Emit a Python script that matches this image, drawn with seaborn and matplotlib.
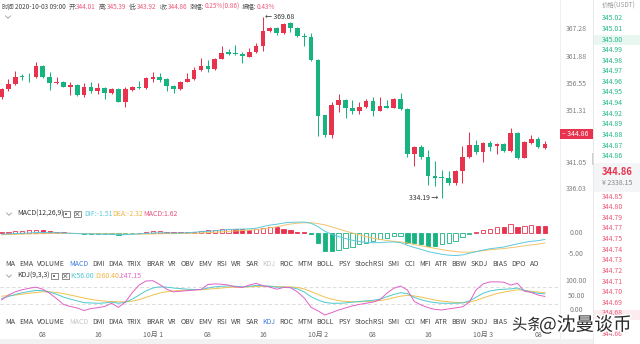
import numpy as np
import pandas as pd
import matplotlib
matplotlib.use("Agg")
import matplotlib.pyplot as plt
import matplotlib.transforms as mtrans
import matplotlib.patheffects as pe
from matplotlib.patches import Rectangle
from matplotlib.lines import Line2D
import seaborn as sns

# ---------------- data: ETH/USDT hourly candles ----------------
start_time = "2020-09-30 02:00"

opens = [354.09, 355.54, 356.58, 358.00, 357.95, 357.89, 360.10, 358.00, 356.71, 356.97,
         356.05, 356.32, 354.42, 355.99, 355.26, 355.73, 354.87, 355.60, 353.11, 355.34,
         355.99, 355.73, 357.56, 357.89, 357.49, 356.18, 355.60, 357.03, 357.55, 359.31,
         360.10, 359.51, 361.53, 362.78, 362.58, 362.39, 361.92, 362.78, 364.01, 367.01,
         367.59, 366.56, 368.45, 367.59, 365.97, 365.83, 361.27, 350.45, 346.54, 352.52,
         353.50, 351.94, 351.29, 352.07, 353.25, 351.35, 352.27, 351.94, 353.64, 351.68,
         342.88, 344.30, 342.35, 338.57, 338.30, 338.18, 337.14, 339.61, 342.35, 344.64,
         343.33, 344.97, 344.44, 344.77, 343.46, 346.93, 342.15, 344.97, 345.75, 344.01]
highs = [355.80, 357.49, 359.18, 358.60, 358.80, 360.82, 360.30, 358.87, 358.00, 357.10,
         357.03, 356.50, 356.71, 356.97, 356.71, 355.90, 355.80, 355.75, 356.05, 356.10,
         357.10, 358.00, 358.87, 358.67, 357.80, 356.44, 357.20, 358.67, 359.96, 361.72,
         361.27, 361.70, 364.07, 363.37, 364.15, 362.90, 363.56, 364.54, 369.68, 367.75,
         367.80, 368.60, 368.70, 367.80, 366.50, 366.50, 361.50, 350.60, 353.11, 354.62,
         353.70, 353.44, 352.99, 353.70, 354.09, 354.09, 353.50, 353.90, 354.76, 351.90,
         344.50, 344.60, 343.66, 341.56, 339.74, 339.61, 339.80, 344.50, 347.12, 345.61,
         345.30, 345.42, 345.00, 345.00, 347.91, 347.10, 345.40, 346.59, 346.26, 345.39]
lows = [353.70, 355.30, 356.40, 357.30, 357.00, 357.70, 357.70, 355.40, 356.60, 355.90,
        354.42, 354.30, 353.97, 354.76, 354.62, 353.64, 354.70, 353.00, 352.02, 355.20,
        355.60, 355.60, 357.03, 357.03, 355.15, 354.87, 355.40, 356.90, 357.40, 359.10,
        358.87, 359.30, 361.40, 362.19, 362.30, 360.63, 361.80, 362.60, 363.09, 366.85,
        366.20, 366.40, 366.81, 365.70, 364.01, 361.10, 346.46, 346.20, 345.95, 351.15,
        349.98, 350.65, 350.65, 351.90, 350.37, 351.20, 351.80, 351.80, 351.50, 342.35,
        340.59, 341.90, 336.81, 336.61, 334.19, 336.90, 336.90, 337.14, 342.10, 342.82,
        341.37, 343.52, 342.82, 343.30, 343.30, 341.90, 342.00, 344.80, 344.10, 343.92]
closes = [355.54, 356.58, 358.00, 357.90, 357.85, 360.10, 358.00, 356.71, 356.97, 356.05,
          356.32, 354.42, 355.93, 355.26, 355.73, 354.87, 355.60, 353.11, 355.54, 355.93,
          355.73, 357.69, 357.89, 357.36, 356.24, 355.54, 357.03, 357.55, 359.31, 360.10,
          359.45, 361.53, 362.70, 362.45, 362.45, 362.05, 362.84, 364.01, 367.01, 367.59,
          366.56, 368.38, 367.59, 365.91, 365.77, 361.27, 350.37, 346.54, 352.52, 353.50,
          351.94, 351.29, 352.07, 353.25, 351.35, 352.27, 351.94, 353.64, 351.68, 342.88,
          344.30, 342.35, 338.57, 338.24, 338.10, 337.14, 339.61, 342.35, 344.64, 343.33,
          344.97, 344.30, 344.77, 343.46, 346.93, 342.15, 345.17, 345.75, 344.25, 344.86]

price_ticks = [336.03, 341.05, 346.14, 351.31, 356.55, 361.88, 367.28]

# MACD(12,26,9)
dif = [-0.30, -0.22, -0.12, -0.05, 0.00, 0.10, 0.12, 0.08, 0.05, 0.00,
       -0.05, -0.15, -0.20, -0.22, -0.25, -0.30, -0.28, -0.40, -0.38, -0.30,
       -0.22, -0.08, 0.00, 0.05, 0.02, -0.02, 0.00, 0.05, 0.18, 0.30,
       0.38, 0.52, 0.68, 0.80, 0.88, 0.92, 0.98, 1.12, 1.50, 1.85,
       2.05, 2.35, 2.50, 2.55, 2.55, 2.30, 1.50, 0.40, -0.30, -0.85,
       -1.30, -1.70, -2.00, -2.20, -2.30, -2.25, -2.15, -2.10, -2.25, -2.90,
       -3.40, -3.85, -4.35, -4.70, -5.00, -5.20, -5.30, -5.15, -4.75, -4.40,
       -4.00, -3.70, -3.50, -3.30, -2.90, -2.55, -2.20, -1.95, -1.80, -1.51]
dea = [-0.42, -0.37, -0.32, -0.27, -0.22, -0.18, -0.16, -0.13, -0.10, -0.09,
       -0.09, -0.10, -0.12, -0.14, -0.16, -0.18, -0.20, -0.23, -0.25, -0.26,
       -0.26, -0.24, -0.22, -0.19, -0.16, -0.14, -0.12, -0.10, -0.05, 0.02,
       0.09, 0.17, 0.27, 0.38, 0.48, 0.57, 0.66, 0.80, 0.95, 1.20,
       1.45, 1.80, 2.10, 2.30, 2.40, 2.40, 2.20, 1.90, 1.45, 0.95,
       0.45, 0.00, -0.42, -0.85, -1.20, -1.50, -1.75, -1.95, -2.10, -2.35,
       -2.70, -3.00, -3.30, -3.60, -3.90, -4.15, -4.35, -4.50, -4.50, -4.35,
       -4.15, -3.95, -3.80, -3.65, -3.45, -3.25, -3.00, -2.80, -2.60, -2.32]
macd_hist = [0.25, 0.30, 0.40, 0.50, 0.70, 0.80, 0.60, 0.40, 0.30, 0.20,
             0.10, -0.10, -0.20, -0.25, -0.30, -0.35, -0.30, -0.40, -0.35, -0.10,
             0.10, 0.30, 0.45, 0.50, 0.35, 0.20, 0.15, 0.20, 0.35, 0.50,
             0.60, 0.75, 0.90, 1.00, 0.95, 0.85, 0.80, 0.90, 1.20, 1.40,
             1.30, 1.00, 0.70, 0.30, 0.15, -0.20, -2.30, -4.20, -4.30, -3.90,
             -3.60, -3.40, -2.70, -2.30, -1.90, -1.50, -1.10, -0.80, -0.60, -2.30,
             -2.40, -2.70, -3.00, -3.10, -2.70, -2.30, -1.90, -1.00, -0.30, 0.30,
             0.60, 0.90, 1.40, 1.35, 2.10, 1.50, 1.60, 1.80, 1.70, 1.62]

# KDJ(9,3,3)
k_line = [40, 47, 54, 60, 64, 68, 67, 62, 55, 45, 38, 32, 26, 25, 24, 25, 28, 24, 27, 38,
          52, 66, 76, 80, 79, 76, 74, 72, 71, 71, 76, 80, 82, 83, 82, 80, 82, 85, 84, 82,
          79, 79, 78, 73, 63, 46, 35, 27, 24, 24, 25, 28, 30, 32, 34, 38, 46, 54, 60, 57,
          44, 36, 30, 26, 24, 24, 24, 25, 32, 45, 58, 66, 70, 72, 73, 76, 68, 62, 58, 56.00]
d_line = [48, 50, 52, 55, 58, 61, 63, 63, 61, 57, 52, 47, 42, 37, 34, 31, 30, 29, 29, 31,
          36, 44, 52, 59, 63, 66, 68, 69, 70, 70, 72, 74, 76, 78, 79, 79, 80, 81, 82, 82,
          81, 80, 80, 78, 73, 64, 54, 45, 38, 33, 30, 29, 29, 30, 31, 33, 37, 43, 48, 51,
          49, 45, 40, 35, 31, 29, 27, 26, 28, 34, 42, 50, 57, 62, 66, 70, 68, 65, 62, 60.40]
j_line = [35, 52, 63, 70, 75, 79, 72, 58, 40, 20, 13, 8, -1, 6, 9, 13, 24, 10, 28, 60,
          86, 100, 101, 88, 72, 63, 65, 67, 69, 71, 88, 90, 89, 86, 80, 78, 86, 92, 84, 79,
          72, 78, 77, 63, 42, 10, -2, -16, -8, 1, 8, 15, 20, 24, 28, 36, 58, 75, 83, 69,
          30, 18, 9, 3, 1, 5, 8, 12, 28, 70, 90, 97, 97, 96, 86, 92, 65, 61, 52, 47.15]

# order book (price column); the 344.67 row sits under the account mark
ask_prices = ["345.02", "345.01", "345.00", "344.99", "344.98", "344.97", "344.96",
              "344.95", "344.94", "344.92", "344.89", "344.88", "344.87", "344.86"]
bid_prices = ["344.85", "344.80", "344.79", "344.77", "344.75", "344.74", "344.73",
              "344.72", "344.71", "344.70", "344.69", "344.68", "344.66"]
last_price_cny = "¥ 2338.15"

indicator_tabs = ["MA", "EMA", "VOLUME", "MACD", "DMI", "DMA", "TRIX", "BRAR", "VR", "OBV",
                  "EMV", "RSI", "WR", "SAR", "KDJ", "ROC", "MTM", "BOLL", "PSY", "StochRSI",
                  "SMI", "CCI", "MFI", "ATR", "BBW", "SKDJ", "BIAS", "DPO", "AO"]

# ---------------- style ----------------
UP = "#e8334f"
DOWN = "#17b381"
C_DIF = "#5cc9dc"
C_DEA = "#f3c36c"
C_MACD = "#e84f7c"
C_K = "#4cc9cf"
C_D = "#f0c24e"
C_J = "#e060c8"
GRAY = "#808080"
FS = 5.0
FS_INFO = 4.6

sns.set_style("white")
plt.rcParams["font.family"] = ["Noto Sans CJK SC", "DejaVu Sans"]

W, H = 640, 344
fig = plt.figure(figsize=(W / 100, H / 100), dpi=100)
fig.patch.set_facecolor("white")


def fx(x):
    return x / W


def fy(y):
    return 1 - y / H


def add_ax(l, t, r, b):
    ax = fig.add_axes([l / W, 1 - b / H, (r - l) / W, (b - t) / H])
    ax.set_facecolor("none")
    for s in ax.spines.values():
        s.set_visible(False)
    ax.set_xticks([])
    ax.set_yticks([])
    return ax


def text(x, y, s, **kw):
    kw.setdefault("va", "center")
    kw.setdefault("ha", "left")
    kw.setdefault("fontsize", FS)
    return fig.text(fx(x), fy(y), s, **kw)


renderer = fig.canvas.get_renderer()


def width_of(s, size=FS):
    t = fig.text(0, 0, s, fontsize=size)
    w = t.get_window_extent(renderer).width
    t.remove()
    return w


def chain(x, y, parts, gap=0.0, size=FS):
    for s, c in parts:
        t = text(x, y, s, color=c, fontsize=size)
        x += t.get_window_extent(renderer).width + gap
    return x


def chevron(x, y):
    fig.add_artist(Line2D([fx(x - 2.5), fx(x), fx(x + 2.5)],
                          [fy(y - 1.2), fy(y + 1.3), fy(y - 1.2)],
                          color="#999999", lw=0.6))


def icon_box(x, y, cross):
    fig.add_artist(Rectangle((fx(x), fy(y + 3.3)), 6.6 / W, 6.6 / H, fill=False,
                             ec="#777777", lw=0.6))
    if cross:
        fig.add_artist(Line2D([fx(x + 1.6), fx(x + 5.0)], [fy(y - 1.7), fy(y + 1.7)],
                              color="#777777", lw=0.6))
        fig.add_artist(Line2D([fx(x + 1.6), fx(x + 5.0)], [fy(y + 1.7), fy(y - 1.7)],
                              color="#777777", lw=0.6))
    else:
        fig.add_artist(Rectangle((fx(x + 2.2), fy(y + 1.1)), 2.2 / W, 2.2 / H,
                                 fc="#777777", ec="none"))


n = len(closes)
idx = np.arange(n)
times = pd.date_range(start_time, periods=n, freq="h")
STEP = 6.88
X0 = 1.5
PLOT_R = 560
xlim = ((0 - X0) / STEP, (PLOT_R - X0) / STEP)

# ---------------- separators / panel background ----------------
fig.add_artist(Line2D([fx(PLOT_R), fx(PLOT_R)], [fy(0), fy(338)], color="#ececec", lw=0.6))
fig.add_artist(Line2D([fx(593), fx(593)], [fy(0), fy(344)], color="#e4e4e4", lw=0.6))
fig.add_artist(Rectangle((fx(592), fy(165)), 2.4 / W, 12 / H, fc="#cfcfcf", ec="none"))
fig.add_artist(Rectangle((0, 0), fx(593), 5 / H, fc="#f2f2f2", ec="none"))

# ---------------- candlestick panel ----------------
ax = add_ax(0, 12, PLOT_R, 207)
ax.set_xlim(*xlim)
ax.set_ylim(332.50, 370.67)
o = np.array(opens)
c = np.array(closes)
colors = [UP if cc >= oo else DOWN for oo, cc in zip(o, c)]
ax.vlines(idx, lows, highs, colors=colors, lw=0.75, zorder=2)
body_bottom = np.minimum(o, c)
body_h = np.maximum(np.abs(c - o), 0.18)
ax.bar(idx, body_h, bottom=body_bottom, width=0.68, color=colors, lw=0, zorder=3)

imax = int(np.argmax(highs))
imin = int(np.argmin(lows))
ax.text(imax + 0.35, highs[imax], "← %.2f" % highs[imax], fontsize=FS, color="#333333",
        va="center", ha="left")
ax.text(imin - 0.5, lows[imin], "%.2f →" % lows[imin], fontsize=FS, color="#333333",
        va="center", ha="right")

blend = mtrans.blended_transform_factory(fig.transFigure, ax.transData)
for v in price_ticks:
    ax.text(fx(576), v, "%.2f" % v, transform=blend, fontsize=FS, color=GRAY,
            ha="center", va="center", clip_on=False)

# last price tag, lifted just above the live candle
last = closes[-1]
tag_y = ax.transData.transform((0, last))[1] / H + 10 / H
fig.add_artist(Rectangle((fx(PLOT_R), tag_y - 5.2 / H), 33 / W, 10.4 / H, fc=UP, ec="none",
                         zorder=5))
fig.text(fx(PLOT_R + 2.5), tag_y, "– %.2f" % last, color="white", fontsize=FS,
         va="center", ha="left", zorder=6)

# ---------------- info line ----------------
info = [[("时间", "#555555"), ("2020-10-03 09:00", "#444444")],
        [("开:", "#555555"), ("%.2f" % opens[-1], "#f0587a")],
        [("高:", "#555555"), ("%.2f" % highs[-1], "#f0587a")],
        [("低:", "#555555"), ("%.2f" % lows[-1], "#f0587a")],
        [("收:", "#555555"), ("%.2f" % closes[-1], "#f0587a")],
        [("涨幅:", "#555555"), ("0.25%(0.86)", "#f0587a")],
        [("振幅:", "#555555"), ("0.43%", "#f0587a")]]
seg_w = [sum(width_of(s, FS_INFO) for s, _ in seg) for seg in info]
seg_gap = (275 - 2 - sum(seg_w)) / (len(info) - 1)
x = 2
for seg, w in zip(info, seg_w):
    chain(x, 7, seg, size=FS_INFO)
    x += w + seg_gap
chevron(8, 17)

# ---------------- MACD panel ----------------
chevron(9, 214)
chain(17, 214, [("MACD(12,26,9)", "#333333")])
icon_box(63, 214, False)
icon_box(74, 214, True)
chain(84, 214, [("DIF:%.2f" % dif[-1], C_DIF)])
chain(112, 214, [("DEA:%.2f" % dea[-1], "#f0b445")])
chain(143, 214, [("MACD:%.2f" % macd_hist[-1], C_MACD)])

axm = add_ax(0, 220, PLOT_R, 258)
axm.set_xlim(*xlim)
axm.set_ylim(-5.87, 3.05)
h = np.array(macd_hist)
prev = np.concatenate([[h[0] - 1], h[:-1]])
hollow = h > prev
bar_col = [UP if v >= 0 else DOWN for v in h]
face = ["white" if ho else col for ho, col in zip(hollow, bar_col)]
axm.bar(idx, h, width=0.62, color=face, edgecolor=bar_col, lw=0.6, zorder=3)
sns.lineplot(x=idx, y=dea, ax=axm, color=C_DEA, lw=0.7, zorder=4)
sns.lineplot(x=idx, y=dif, ax=axm, color=C_DIF, lw=0.7, zorder=4)
axm.set_xlabel("")
axm.set_ylabel("")
axm.set_xticks([])
axm.set_yticks([])
blend_m = mtrans.blended_transform_factory(fig.transFigure, axm.transData)
for v in [0.0, -5.0]:
    axm.text(fx(576), v, "%.2f" % v, transform=blend_m, fontsize=FS, color=GRAY,
             ha="center", va="center", clip_on=False)


# ---------------- indicator tab rows ----------------
def tab_row(y, active, muted, stop_x=None):
    widths = [width_of(s) for s in indicator_tabs]
    gap = (539 - 5 - sum(widths)) / (len(indicator_tabs) - 1)
    x = 5
    for s, w in zip(indicator_tabs, widths):
        if stop_x is not None and x > stop_x:
            break  # the rest of the row lies under the account mark
        col = "#3a7bdf" if s == active else ("#c4c4c4" if s == muted else "#444444")
        text(x, y, s, color=col)
        x += w + gap


tab_row(264, "MACD", "KDJ")
tab_row(322, "KDJ", "MACD", stop_x=508)

# ---------------- KDJ panel ----------------
chevron(9, 276)
chain(17, 276, [("KDJ(9,3,3)", "#333333")])
icon_box(51, 276, False)
icon_box(62, 276, True)
chain(70, 276, [("K:%.2f" % k_line[-1], C_K)])
chain(95, 276, [("D:%.2f" % d_line[-1], "#f0b445")])
chain(119, 276, [("J:%.2f" % j_line[-1], C_J)])

axk = add_ax(0, 278, PLOT_R, 316)
axk.set_xlim(*xlim)
axk.set_ylim(-19.5, 110.2)
for lvl in (80, 20):
    axk.axhline(lvl, color="#d6d6d6", lw=0.6, ls=(0, (4, 3)), zorder=1)
sns.lineplot(x=idx, y=d_line, ax=axk, color=C_D, lw=0.7, zorder=3)
sns.lineplot(x=idx, y=k_line, ax=axk, color=C_K, lw=0.7, zorder=3)
sns.lineplot(x=idx, y=j_line, ax=axk, color=C_J, lw=0.7, zorder=3)
axk.set_xlabel("")
axk.set_ylabel("")
axk.set_xticks([])
axk.set_yticks([])
blend_k = mtrans.blended_transform_factory(fig.transFigure, axk.transData)
for v in [100.0, 50.0, 0.0]:
    axk.text(fx(576), v, "%.2f" % v, transform=blend_k, fontsize=FS, color=GRAY,
             ha="center", va="center", clip_on=False)

# ---------------- time axis ----------------
axt = add_ax(0, 329, PLOT_R, 341)
axt.set_xlim(*xlim)
axt.set_ylim(0, 1)
for i, t in enumerate(times):
    if t.hour % 8 == 0:
        lab = "%d月 %d" % (t.month, t.day) if t.hour == 0 else "%02d" % t.hour
        axt.text(i, 0.5, lab, fontsize=FS, color="#666666", ha="center", va="center")

# ---------------- order book column ----------------
ROW = 10.6
text(602, 6, "价格(USDT)", color="#9a9a9a", fontsize=FS - 0.4)
fig.add_artist(Rectangle((fx(594), fy(45)), 46 / W, 10 / H, fc="#e9f7f1", ec="none"))
for i, p in enumerate(ask_prices):
    text(602, 18.3 + ROW * i, p, color="#22b98a")
fig.add_artist(Rectangle((fx(594), fy(192)), 46 / W, 29 / H, fc="#f4f5f7", ec="none"))
text(602, 172, "%.2f" % closes[-1], color=UP, fontsize=6.8, fontweight="bold")
text(602, 183, last_price_cny, color="#888888", fontsize=FS)
fig.add_artist(Rectangle((fx(594), fy(320)), 46 / W, 10 / H, fc="#fdecef", ec="none"))
for i, p in enumerate(bid_prices):
    row = i if i < 12 else i + 1
    text(602, 196.7 + ROW * row, p, color="#ef5a78")

# ---------------- account mark ----------------
halo = [pe.withStroke(linewidth=2.4, foreground="white")]
text(512, 325, "头条", color="#2b2b2b", fontsize=11, path_effects=halo, zorder=10)
text(539, 325, "@沈曼谈币", color="#2b2b2b", fontsize=13.5, path_effects=halo, zorder=10)

fig.savefig("out.png", dpi=100, facecolor="white")
